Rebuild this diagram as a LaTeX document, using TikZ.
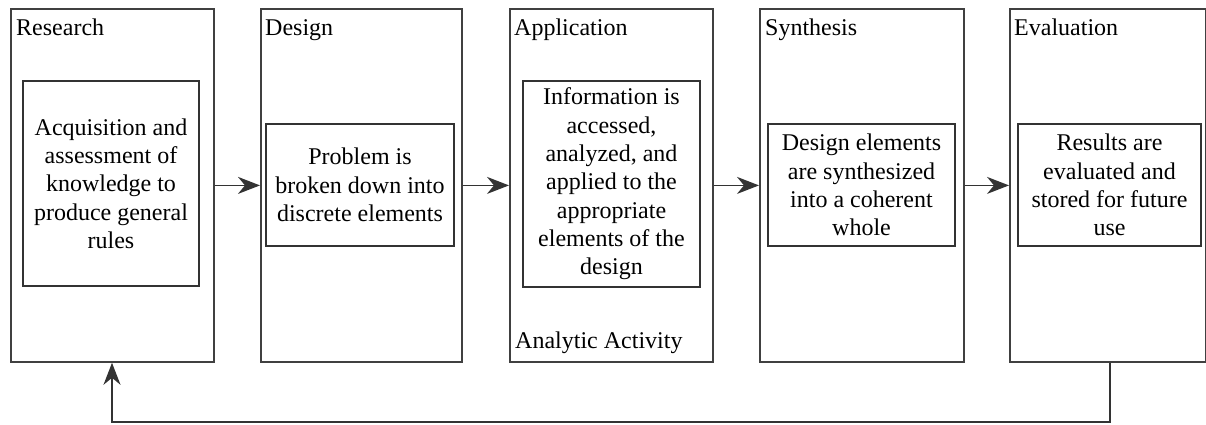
\documentclass[tikz,border=0pt]{standalone}
\usepackage{fontspec}
\setmainfont{Liberation Serif}
\usetikzlibrary{arrows.meta}
\begin{document}
\begin{tikzpicture}[x=1pt,y=-1pt,
 outer/.style={draw=black!75,line width=1.8pt,anchor=north west,inner sep=0pt},
 inner/.style={draw=black!80,line width=1.6pt,align=center,inner sep=0pt,
   font=\fontsize{24}{28.3}\selectfont},
 lab/.style={anchor=base west,inner sep=0pt,font=\fontsize{24}{28}\selectfont},
 conn/.style={draw=black!80,line width=1.6pt,-{Stealth[length=22pt,width=17pt,inset=7pt]}}]
\useasboundingbox (0,0) rectangle (1206,425);
% outer boxes
\node[outer,minimum width=203pt,minimum height=353pt] (o1) at (10,8) {};
\node[outer,minimum width=201pt,minimum height=353pt] (o2) at (260,8) {};
\node[outer,minimum width=203pt,minimum height=353pt] (o3) at (509,8) {};
\node[outer,minimum width=204pt,minimum height=353pt] (o4) at (759,8) {};
\node[outer,minimum width=196pt,minimum height=353pt] (o5) at (1009,8) {};
% labels
\node[lab] (l1) at (16,36) {Research};
\node[lab] (l2) at (265,36) {Design};
\node[lab] (l3) at (514,36) {Application};
\node[lab] (l4) at (765,36) {Synthesis};
\node[lab] (l5) at (1014,36) {Evaluation};
\node[lab] (l6) at (515,348) {Analytic Activity};
% inner boxes
\node[inner,minimum width=176pt,minimum height=205pt] (i1) at (111,183.5)
  {Acquisition and\\assessment of\\knowledge to\\produce general\\rules};
\node[inner,minimum width=188pt,minimum height=122pt] (i2) at (360,185)
  {Problem is\\broken down into\\discrete elements};
\node[inner,minimum width=177pt,minimum height=206pt] (i3) at (611.5,184)
  {Information is\\accessed,\\analyzed, and\\applied to the\\appropriate\\elements of the\\design};
\node[inner,minimum width=187pt,minimum height=122pt] (i4) at (861.5,185)
  {Design elements\\are synthesized\\into a coherent\\whole};
\node[inner,minimum width=183pt,minimum height=122pt] (i5) at (1109.5,185)
  {Results are\\evaluated and\\stored for future\\use};
% connectors
\draw[conn] (o1.east) -- (o2.west);
\draw[conn] (o2.east) -- (o3.west);
\draw[conn] (o3.east) -- (o4.west);
\draw[conn] (o4.east) -- (o5.west);
\coordinate (f1) at (1110,422);
\coordinate (f2) at (112,422);
\draw[conn] (o5.south -| f1) -- (f1) -- (f2) -- (o1.south -| f2);
\end{tikzpicture}
\end{document}
